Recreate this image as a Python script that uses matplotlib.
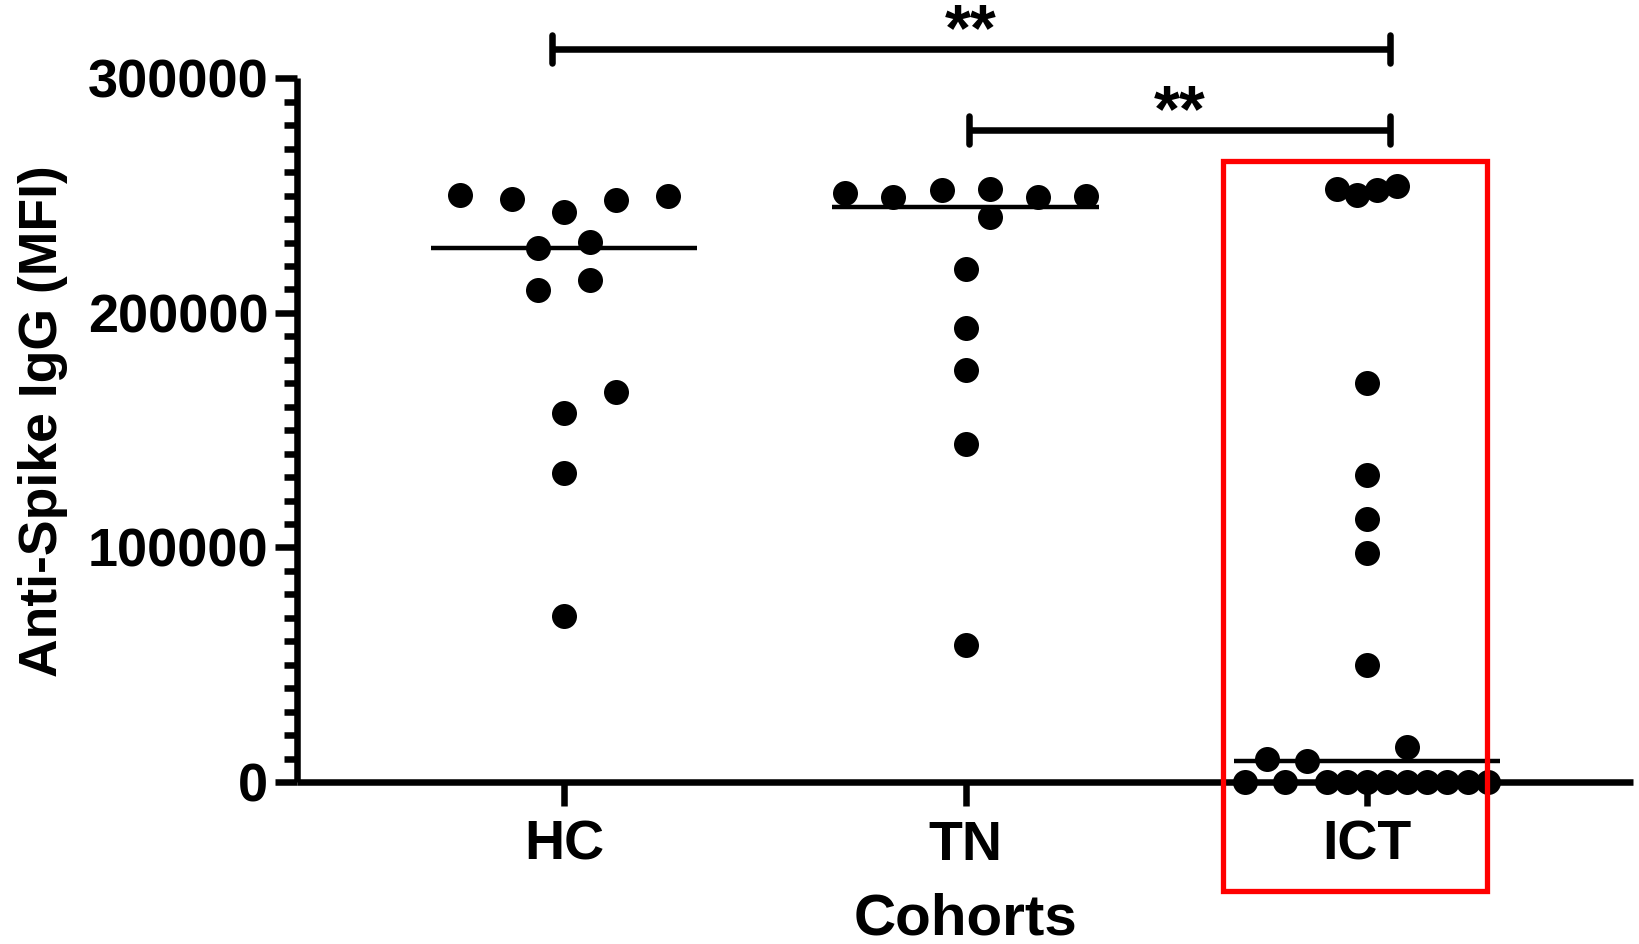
import numpy as np
import matplotlib
matplotlib.use('Agg')
import matplotlib.pyplot as plt
from matplotlib.patches import Rectangle
from matplotlib.ticker import MultipleLocator

plt.rcParams['font.family'] = ['Liberation Sans', 'DejaVu Sans']
plt.rcParams['font.weight'] = 'bold'

# values (MFI)
cohorts = ['HC', 'TN', 'ICT']

hc_mfi = [250300, 248400, 243100, 248100, 249800, 227500, 230300,
          209700, 214000, 166100, 157200, 131800, 70700]
hc_spread = [-0.26, -0.13, 0, 0.13, 0.26, -0.065, 0.065,
             -0.065, 0.065, 0.13, 0, 0, 0]

tn_mfi = [251000, 249300, 252400, 252800, 249500, 249800, 241000,
          218700, 193400, 175600, 144100, 58400]
tn_spread = [-0.30, -0.18, -0.06, 0.06, 0.18, 0.30, 0.06,
             0, 0, 0, 0, 0]

ict_mfi = [252700, 250300, 252400, 254200, 170200, 130700, 112200,
           97500, 49900, 15000, 10000, 9100,
           0, 0, 0, 0, 0, 0, 0, 0, 0, 0, 0]
ict_spread = [-0.075, -0.025, 0.025, 0.075, 0, 0, 0,
              0, 0, 0.10, -0.25, -0.15,
              -0.305, -0.205, -0.10, -0.05, 0, 0.05, 0.10, 0.15, 0.20, 0.25, 0.30]

groups = [(hc_mfi, hc_spread), (tn_mfi, tn_spread), (ict_mfi, ict_spread)]

# significance comparisons: (left, right, label, bar height)
comparisons = [(-0.03, 2.057, '**', 312500), (1.008, 2.057, '**', 278000)]

fig = plt.figure(figsize=(16.39, 9.44), dpi=100)
ax = fig.add_axes([297/1639, 1 - 782/944, (1633-297)/1639, (782-78.4)/944])

for i, (vals, spread) in enumerate(groups):
    xs = i + np.array(spread)
    ax.plot(xs, vals, 'o', color='black', ms=18, mew=0, clip_on=False, zorder=3)
    med = np.median(vals)
    ax.plot([i - 0.332, i + 0.332], [med, med], color='black', lw=3.2,
            solid_capstyle='butt', zorder=2)

for x1, x2, label, y in comparisons:
    ax.plot([x1, x2], [y, y], color='black', lw=4.7, clip_on=False,
            solid_capstyle='butt')
    for xc in (x1, x2):
        ax.plot([xc, xc], [y - 6000, y + 6000], color='black', lw=4.7,
                clip_on=False, solid_capstyle='round')
    ax.text((x1 + x2) / 2, y - 6500, label, ha='center', va='bottom',
            fontsize=48, fontweight='bold')

# red highlight box around ICT
ax.add_patch(Rectangle((1.641, -46350), 0.657, 311250, fill=False,
                       edgecolor='#ff0000', lw=3.8, clip_on=False, zorder=4))

ax.set_xlim(-0.665, 2.662)
ax.set_ylim(0, 300000)
ax.set_xticks(range(len(cohorts)))
ax.set_xticklabels(cohorts)
ax.yaxis.set_major_locator(MultipleLocator(100000))
ax.yaxis.set_minor_locator(MultipleLocator(10000))

for s in ['top', 'right']:
    ax.spines[s].set_visible(False)
for s in ['left', 'bottom']:
    ax.spines[s].set_linewidth(4.7)
    ax.spines[s].set_capstyle('butt')

ax.tick_params(axis='y', which='major', length=15.6, width=4.7, pad=5,
               labelsize=39)
ax.tick_params(axis='y', which='minor', length=9.6, width=4.7)
ax.tick_params(axis='x', which='major', length=17, width=4.7, pad=10,
               labelsize=40)
for lab in ax.get_xticklabels() + ax.get_yticklabels():
    lab.set_fontweight('bold')

ax.set_xlabel('Cohorts', fontsize=42, fontweight='bold', labelpad=15)
ax.set_ylabel('Anti-Spike IgG (MFI)', fontsize=38.5, fontweight='bold', labelpad=14)
ax.yaxis.label.set_y(0.513)

fig.savefig('out.png', dpi=100)
